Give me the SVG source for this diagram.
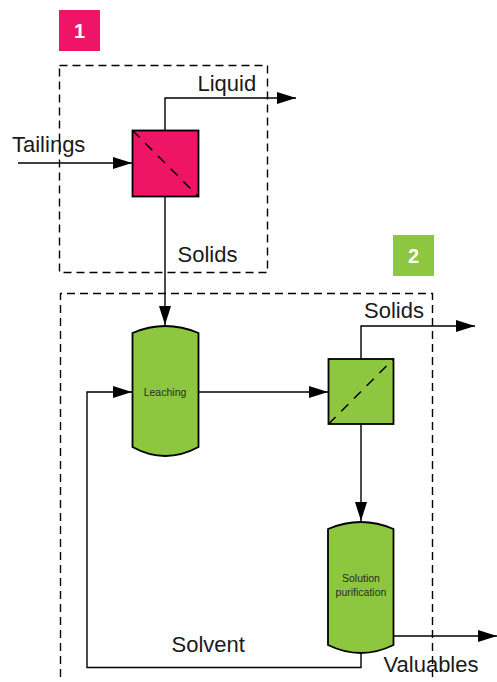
<svg xmlns="http://www.w3.org/2000/svg" width="497" height="682" viewBox="0 0 497 682">
<style>
.box{fill:none;stroke:#000;stroke-width:1.4;stroke-dasharray:8 5}
.ln{fill:none;stroke:#000;stroke-width:1.4}
.pink{fill:#EE1566;stroke:#000;stroke-width:1.8}
.green{fill:#8DC63F;stroke:#000;stroke-width:1.8}
.diag{fill:none;stroke:#000;stroke-width:1.5;stroke-dasharray:10 8}
.lbl{font-family:"Liberation Sans",Arial,sans-serif;font-size:22px;fill:#1a1a1a}
.small{font-family:"Liberation Sans",Arial,sans-serif;font-size:10.5px;fill:#2a2a2a;text-anchor:middle}
.badge{font-family:"Liberation Sans",Arial,sans-serif;font-size:20px;font-weight:bold;fill:#fff;text-anchor:middle}
</style>
<defs>
<marker id="ah" markerWidth="19" markerHeight="12" refX="19" refY="6" orient="auto" markerUnits="userSpaceOnUse">
<path d="M0,0 L19,6 L0,12 Z" fill="#000"/>
</marker>
</defs>
<g id="area1">
<rect x="59" y="10" width="41" height="41" fill="#EE1566"/>
<text class="badge" x="79.5" y="38">1</text>
<rect class="box" x="59.5" y="65.5" width="208" height="207"/>
</g>
<g id="area2">
<rect x="393" y="235" width="41" height="41" fill="#8DC63F"/>
<text class="badge" x="413.5" y="262.5">2</text>
<path class="box" d="M60.5,690 V293.5 H432.5 V690"/>
</g>
<g id="connectors">
<path class="ln" d="M18,163 H132" marker-end="url(#ah)"/>
<path class="ln" d="M165,130 V98 H296" marker-end="url(#ah)"/>
<path class="ln" d="M165,196 V325" marker-end="url(#ah)"/>
<path class="ln" d="M198.5,392 H328" marker-end="url(#ah)"/>
<path class="ln" d="M361,359 V326 H475" marker-end="url(#ah)"/>
<path class="ln" d="M361,424 V521" marker-end="url(#ah)"/>
<path class="ln" d="M393,636 H497" marker-end="url(#ah)"/>
<path class="ln" d="M361,653 V667.5 H87 V392 H132" marker-end="url(#ah)"/>
</g>
<g id="separator1">
<rect class="pink" x="132.5" y="130.5" width="66" height="66"/>
<line class="diag" x1="132.5" y1="130.5" x2="198.5" y2="196.5"/>
</g>
<g id="leaching">
<path class="green" d="M132.5,333 Q165,319 198.5,333 V447 Q165,465 132.5,447 Z"/>
<text class="small" x="165" y="396">Leaching</text>
</g>
<g id="separator2">
<rect class="green" x="328.5" y="359" width="65" height="65"/>
<line class="diag" x1="328.5" y1="424" x2="393.5" y2="359"/>
</g>
<g id="purification">
<path class="green" d="M328,529 Q361,515 393.5,529 V645 Q361,661 328,645 Z"/>
<text class="small" x="361" y="582">Solution</text>
<text class="small" x="361" y="596">purification</text>
</g>
<g id="labels">
<text class="lbl" x="12" y="151.5">Tailings</text>
<text class="lbl" x="197.5" y="90.5">Liquid</text>
<text class="lbl" x="177.5" y="261.5">Solids</text>
<text class="lbl" x="364" y="317.5">Solids</text>
<text class="lbl" x="171.5" y="652">Solvent</text>
<text class="lbl" x="383.5" y="671.5">Valuables</text>
</g>
</svg>
